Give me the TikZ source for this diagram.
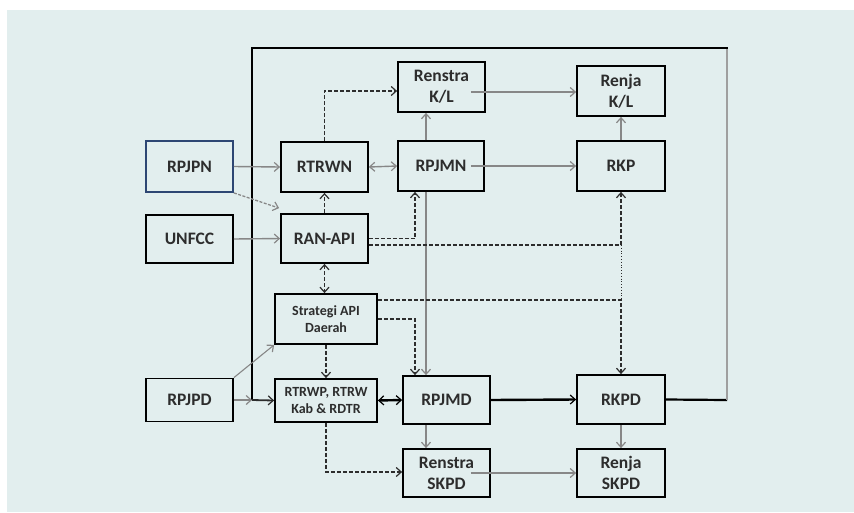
\documentclass[tikz,border=0pt]{standalone}
\usepackage{fontspec}
\setmainfont{Carlito}
\usetikzlibrary{arrows.meta,calc}
\definecolor{bg}{RGB}{226,238,238}
\definecolor{txt}{RGB}{45,45,45}
\definecolor{gl}{RGB}{135,135,135}
\definecolor{dl}{RGB}{45,45,45}
\definecolor{bluebd}{RGB}{45,70,115}
\tikzset{
  box/.style={draw=black, line width=1.8pt, fill=bg, minimum width=87pt, minimum height=50pt,
    inner sep=0pt, font=\bfseries\fontsize{17.5}{21}\selectfont, text=txt, align=center},
  smallbox/.style={box, font=\bfseries\fontsize{14}{17.5}\selectfont},
  tip/.style={-{Straight Barb[length=5pt,width=9pt,line width=1.2pt]}},
  btip/.style={{Straight Barb[length=5pt,width=9pt,line width=1.2pt]}-{Straight Barb[length=5pt,width=9pt,line width=1.2pt]}},
  garr/.style={draw=gl, line width=1.4pt, tip},
  darr/.style={draw=dl, line width=1.8pt, dash pattern=on 4pt off 2pt, tip},
  dgarr/.style={draw=gl, line width=1.3pt, dash pattern=on 3pt off 1.5pt, tip},
  thick2/.style={draw=black, line width=2.4pt}
}
\begin{document}
\begin{tikzpicture}[x=1pt,y=-1pt]
\useasboundingbox (0,0) rectangle (854,512);
\fill[white] (0,0) rectangle (854,512);
\fill[bg] (7,10) rectangle (854,512);

% nodes
\node[box, draw=bluebd, minimum height=51pt] (rpjpn) at (189.5,166.5) {RPJPN};
\node[box, minimum height=48pt] (unfcc) at (189.5,239) {UNFCC};
\node[box, minimum height=43pt] (rpjpd) at (189.5,400) {RPJPD};
\node[box] (rtrwn) at (324.5,167) {RTRWN};
\node[box, minimum height=49pt] (ranapi) at (324.5,238.5) {RAN-API};
\node[smallbox, minimum width=102pt] (strategi) at (326,319) {Strategi API\\Daerah};
\node[smallbox, minimum width=102pt, minimum height=43pt] (rtrwp) at (326,400.5) {RTRWP, RTRW\\Kab \& RDTR};
\node[box] (renstrakl) at (441.5,87) {Renstra\\K/L};
\node[box, minimum width=86pt] (rpjmn) at (441,166) {RPJMN};
\node[box, minimum height=48pt] (rpjmd) at (446.5,400) {RPJMD};
\node[box, minimum height=48pt] (renstraskpd) at (446.5,473) {Renstra\\SKPD};
\node[box, minimum width=88pt] (renjakl) at (621,91) {Renja\\K/L};
\node[box, minimum width=88pt] (rkp) at (621,166) {RKP};
\node[box, minimum width=88pt, minimum height=49pt] (rkpd) at (621,399.5) {RKPD};
\node[box, minimum width=88pt, minimum height=48pt] (renjaskpd) at (621,473) {Renja\\SKPD};

% helper columns and corners
\coordinate (cA) at (426,0);
\coordinate (cB) at (415,0);
\coordinate (fb1) at (727,400);
\coordinate (fb2) at (727,48);
\coordinate (fb3) at (252,48);
\coordinate (fb4) at (252,400);
\path ($(ranapi.east)+(0,6.5)$) coordinate (r2);
\path ($(strategi.east)+(0,-19)$) coordinate (s1);

% feedback frame
\draw[black, line width=2.2pt] (rkpd.east) -- (fb1);
\draw[gl!80, line width=2.4pt] (fb1) -- (fb2);
\draw[black, line width=2.8pt, line cap=rect] (fb2) -- (fb3);
\draw[black, line width=2.2pt] (fb3) -- (fb4);
\draw[draw=dl, line width=1.8pt, tip] (fb4) -- (rtrwp.west);

% gray solid arrows
\draw[garr] (rpjpn.east) -- (rtrwn.west);
\draw[garr] (unfcc.east) -- (ranapi.west);
\draw[garr] (rpjpd.east) -- (fb4);
\draw[garr, btip] (rtrwn.east) -- (rpjmn.west);
\draw[garr] (cA |- rpjmn.north) -- (cA |- renstrakl.south);
\draw[garr] (cA |- rpjmn.south) -- (cA |- rpjmd.north);
\draw[garr] (cA |- rpjmd.south) -- (cA |- renstraskpd.north);
\draw[garr] ($(renstrakl.east)+(-15,5)$) -- ($(renjakl.west)+(0,1)$);
\draw[garr] ($(rpjmn.east)+(-14,0)$) -- (rkp.west);
\draw[garr] (rkp.north) -- (renjakl.south);
\draw[garr] (rkpd.south) -- (renjaskpd.north);
\draw[garr] ($(renstraskpd.east)+(-20,0)$) -- (renjaskpd.west);
\draw[garr, line width=1.1pt] (rpjpd.north east) -- (strategi.south west);
\draw[dgarr] (rpjpn.south east) -- ($(ranapi.north west)+(-1,-5)$);

% dashed black arrows
\draw[darr] (ranapi.north) -- (rtrwn.south);
\draw[darr] (rtrwn.north) |- ($(renstrakl.west)+(0,4)$);
\draw[darr] (ranapi.east) -| (cB |- rpjmn.south);
\draw[darr] (r2) -| (rkp.south);
\draw[darr, btip] (ranapi.south) -- (ranapi.south |- strategi.north);
\draw[darr] (s1) -| (rkpd.north);
\draw[draw=dl, line width=0.8pt, dotted] (rkp.south |- r2) -- (rkp.south |- s1);
\draw[darr] (strategi.east) -| (cB |- rpjmd.north);
\draw[darr] (strategi.south) -- (rtrwp.north);
\draw[darr] (rtrwp.south) |- ($(renstraskpd.west)+(0,-1)$);

% thick black arrows
\draw[thick2, btip] (rtrwp.east) -- (rpjmd.west);
\draw[thick2, tip] (rpjmd.east) -- (rkpd.west);
\end{tikzpicture}
\end{document}
